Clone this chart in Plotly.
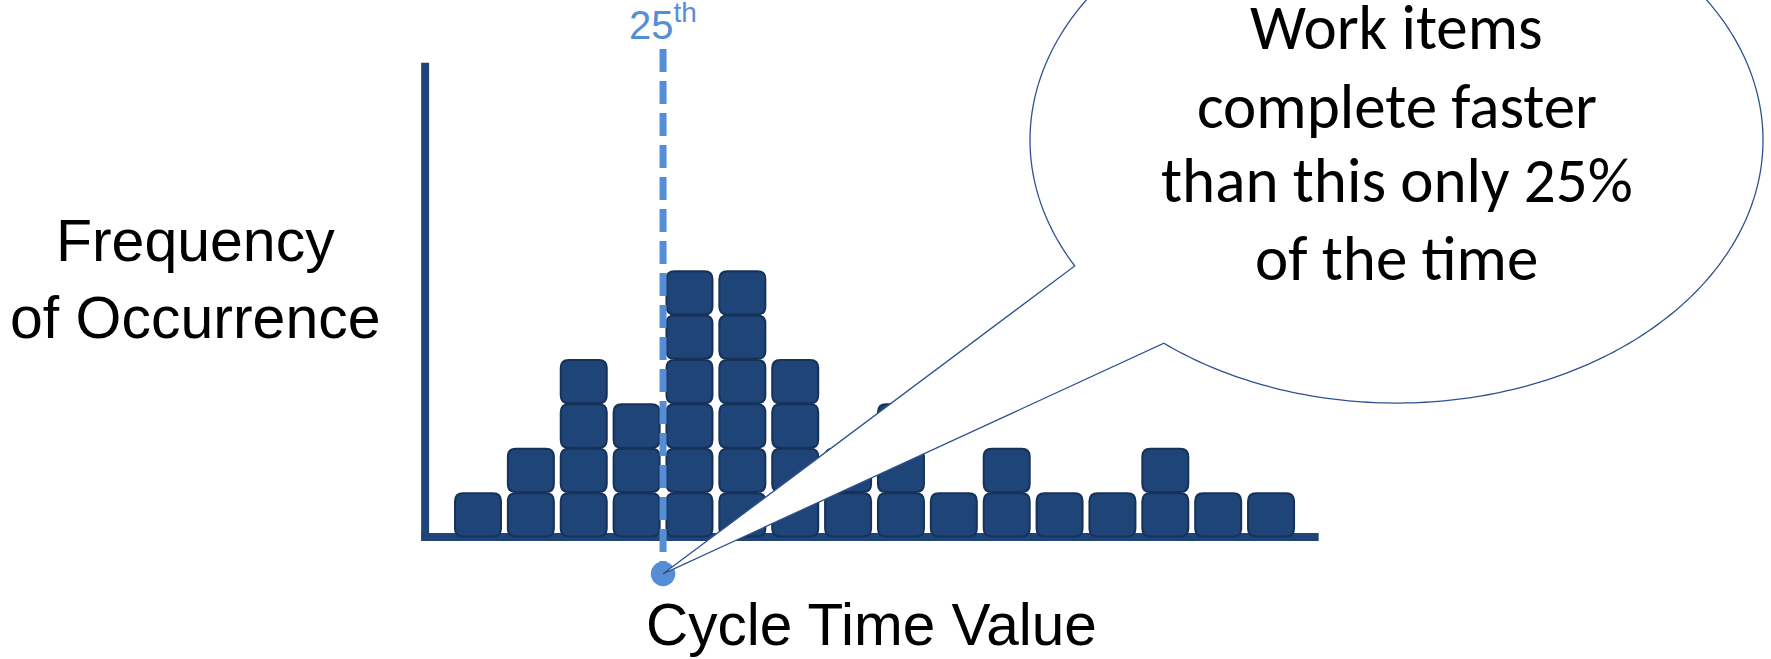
import numpy as np
import plotly.graph_objects as go

# Histogram of work-item cycle times: one stacked block per completed item
bins = list(range(1, 17))
counts = [1, 2, 4, 3, 6, 6, 4, 2, 3, 1, 2, 1, 1, 2, 1, 1]
percentile = 25

x_axis_label = "Cycle Time Value"
y_axis_label = "Frequency<br>of Occurrence"
callout_lines = ["Work items", "complete faster", "than this only 25%", "of the time"]

# colours
NAVY = "#1F4477"
NAVY_EDGE = "#163259"
LIGHT_BLUE = "#558ED5"
OUTLINE = "#2F528F"

W, H = 1771, 659
# pixel size of one bin / one item, and where bin 1 / count 0 sit on the page
PX_PER_BIN = 52.87
PX_PER_ITEM = 44.4
ORIGIN_PX = (478.0, 537.0)

x_range = [1 - ORIGIN_PX[0] / PX_PER_BIN, 1 + (W - ORIGIN_PX[0]) / PX_PER_BIN]
y_range = [-(H - ORIGIN_PX[1]) / PX_PER_ITEM, ORIGIN_PX[1] / PX_PER_ITEM]

# 25th percentile boundary: edge of the bin where the cumulative count reaches it
cum = np.cumsum(counts)
target = percentile / 100 * cum[-1]
idx = int(np.searchsorted(cum, target))
x_pct = bins[idx] + 0.5
marker_y = -0.83

shapes = []

# axis lines
y_axis_top = 10.68
x_axis_end = 16.9
shapes.append(dict(type="line", xref="x", yref="y", x0=0, x1=0, y0=-0.09, y1=y_axis_top,
                   line=dict(color=NAVY, width=8), layer="above"))
shapes.append(dict(type="line", xref="x", yref="y", x0=-0.07, x1=x_axis_end, y0=0, y1=0,
                   line=dict(color=NAVY, width=8), layer="above"))


def rounded_rect(x0, x1, y0, y1, rx, ry):
    return (f"M {x0 + rx},{y0} L {x1 - rx},{y0} Q {x1},{y0} {x1},{y0 + ry} "
            f"L {x1},{y1 - ry} Q {x1},{y1} {x1 - rx},{y1} "
            f"L {x0 + rx},{y1} Q {x0},{y1} {x0},{y1 - ry} "
            f"L {x0},{y0 + ry} Q {x0},{y0} {x0 + rx},{y0} Z")


block_w = 0.87
gap = 0.012
rx, ry = 8 / PX_PER_BIN, 8 / PX_PER_ITEM
for b, c in zip(bins, counts):
    for k in range(c):
        shapes.append(dict(
            type="path", xref="x", yref="y",
            path=rounded_rect(b - block_w / 2, b + block_w / 2, k + gap, k + 1 - gap, rx, ry),
            fillcolor=NAVY, line=dict(color=NAVY_EDGE, width=2), layer="above"))

# percentile marker line and dot
line_top = 10.99
shapes.append(dict(type="line", xref="x", yref="y", x0=x_pct, x1=x_pct, y0=line_top, y1=marker_y,
                   line=dict(color=LIGHT_BLUE, width=7, dash="23px,9px"), layer="above"))
dot_rx, dot_ry = 12.3 / PX_PER_BIN, 12.3 / PX_PER_ITEM
shapes.append(dict(type="circle", xref="x", yref="y",
                   x0=x_pct - dot_rx, x1=x_pct + dot_rx, y0=marker_y - dot_ry, y1=marker_y + dot_ry,
                   fillcolor=LIGHT_BLUE, line=dict(width=0), layer="above"))

# speech-bubble callout pointing at the percentile dot
cx, cy = 18.373, 8.94
a, b_ = 6.932, 5.923
t = np.radians(np.linspace(230.6, 568.6, 340))
pts = [(cx + a * np.cos(tt), cy + b_ * np.sin(tt)) for tt in t]
path = "M " + " L ".join(f"{px:.4f},{py:.4f}" for px, py in pts)
path += f" L {x_pct},{marker_y} Z"
shapes.append(dict(type="path", xref="x", yref="y", path=path,
                   fillcolor="white", line=dict(color=OUTLINE, width=1.3), layer="above"))

annotations = [
    dict(text=y_axis_label, xref="paper", yref="paper", x=195 / W, y=1 - 279 / H,
         xanchor="center", yanchor="middle", showarrow=False, align="center",
         font=dict(family="Liberation Sans, Arial", size=59, color="black")),
    dict(text=x_axis_label, xref="paper", yref="paper", x=871.5 / W, y=1 - 624 / H,
         xanchor="center", yanchor="middle", showarrow=False,
         font=dict(family="Liberation Sans, Arial", size=58.5, color="black")),
    dict(text=f"{percentile}<sup>th</sup>", xref="x", yref="paper", x=x_pct, y=1 - 22 / H,
         xanchor="center", yanchor="middle", showarrow=False,
         font=dict(family="Liberation Sans, Arial", size=40, color=LIGHT_BLUE)),
]

# callout text, one annotation per line so the line pitch can be set directly
CALLOUT_SIZE = 63
line_centres_px = [28, 106, 181, 258]
for txt, yc in zip(callout_lines, line_centres_px):
    annotations.append(dict(
        text=txt, xref="x", yref="paper", x=cx, y=1 - yc / H,
        xanchor="center", yanchor="middle", showarrow=False,
        font=dict(family="Calibri, Carlito, Lato", size=CALLOUT_SIZE, color="black")))

fig = go.Figure()
fig.update_layout(
    width=W, height=H, autosize=False,
    margin=dict(l=0, r=0, t=0, b=0),
    paper_bgcolor="white", plot_bgcolor="white",
    xaxis=dict(range=x_range, visible=False, fixedrange=True),
    yaxis=dict(range=y_range, visible=False, fixedrange=True),
    shapes=shapes, annotations=annotations, showlegend=False,
)
fig.write_html("out.html")
